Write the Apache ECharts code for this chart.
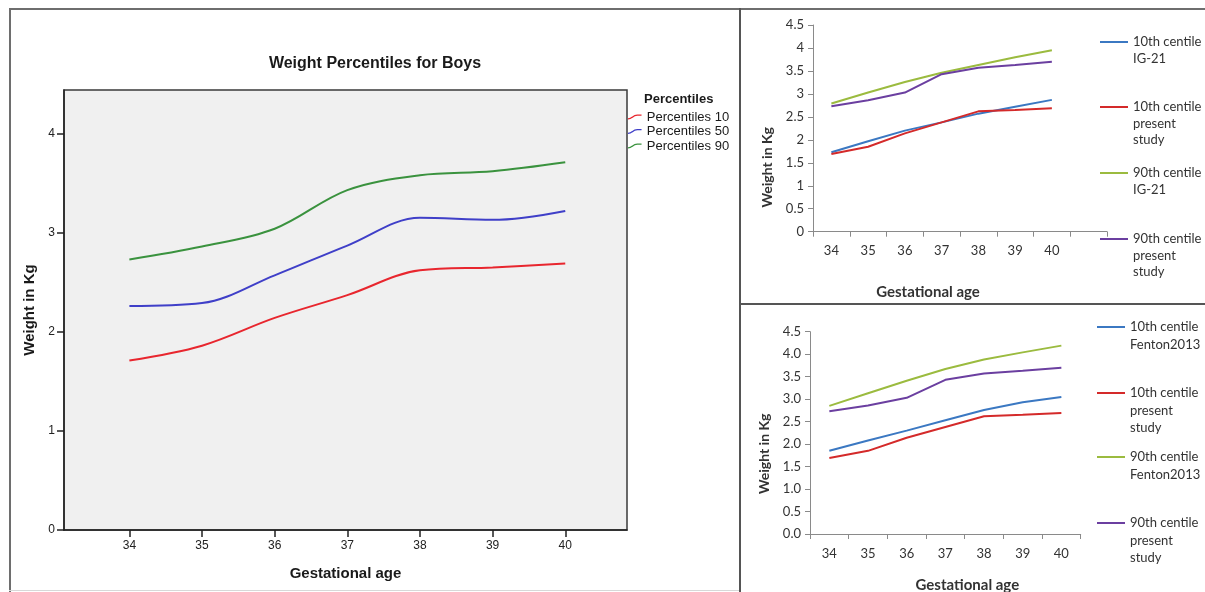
<!DOCTYPE html>
<html>
<head>
<meta charset="utf-8">
<script src="https://cdn.jsdelivr.net/npm/echarts@6/dist/echarts.min.js"></script>
<style>
  html, body { margin: 0; padding: 0; background: #fff; width: 1205px; height: 592px; overflow: hidden; }
  .c { position: absolute; }
  .ln { position: absolute; background: #6e6e6e; }
</style>
</head>
<body>
<div id="c1" class="c" style="left:11px;top:10px;width:728px;height:579px;"></div>
<div id="c2" class="c" style="left:741px;top:10px;width:464px;height:293px;"></div>
<div id="c3" class="c" style="left:741px;top:305px;width:464px;height:287px;"></div>
<div class="ln" style="left:9px;top:8px;width:1196px;height:2px;"></div>
<div class="ln" style="left:9px;top:8px;width:2px;height:584px;"></div>
<div class="ln" style="left:739px;top:8px;width:2px;height:584px;background:#555;"></div>
<div class="ln" style="left:740px;top:303px;width:465px;height:2px;background:#555;"></div>
<div class="ln" style="left:9px;top:590px;width:730px;height:1px;background:#d8d8d8;"></div>
<script>
// ---- data ----
const ages = [34, 35, 36, 37, 38, 39, 40];
const ageLabels = ['34', '35', '36', '37', '38', '39', '40'];
// left chart: smoothed percentiles (boys)
const boysP10 = [1.71, 1.86, 2.14, 2.37, 2.62, 2.65, 2.69];
const boysP50 = [2.26, 2.29, 2.57, 2.87, 3.15, 3.13, 3.22];
const boysP90 = [2.73, 2.86, 3.04, 3.43, 3.58, 3.62, 3.71];
// present study centiles (right charts)
const studyP10 = [1.69, 1.85, 2.14, 2.38, 2.62, 2.65, 2.69];
const studyP90 = [2.73, 2.86, 3.03, 3.43, 3.57, 3.63, 3.70];
// IG-21 centiles
const ig21P10 = [1.73, 1.97, 2.20, 2.38, 2.57, 2.72, 2.87];
const ig21P90 = [2.79, 3.03, 3.26, 3.46, 3.63, 3.80, 3.95];
// Fenton 2013 centiles
const fentonP10 = [1.85, 2.08, 2.30, 2.53, 2.76, 2.93, 3.05];
const fentonP90 = [2.85, 3.13, 3.41, 3.67, 3.88, 4.04, 4.19];
const leftYTicks = [0, 1, 2, 3, 4];

// ---- left chart ----
const pairs = arr => ages.map((a, i) => [a, arr[i]]);
const c1 = echarts.init(document.getElementById('c1'), null, { renderer: 'canvas' });
const sCurve = 'path://M0,4 C3,4 5,0.4 9,0.4 L13,0.4 L13,1.6 L9,1.6 C5.6,1.6 3.6,5.2 0,5.2 Z';
const leftFont = 'Liberation Sans, Arial, sans-serif';
function leftSeries(name, data, color) {
  return { type: 'line', name, data: pairs(data), smooth: 0.35, symbol: 'none',
    lineStyle: { color, width: 2 }, itemStyle: { color } };
}
c1.setOption({
  animation: false,
  textStyle: { fontFamily: leftFont },
  title: [
    { text: 'Weight Percentiles for Boys', left: 'center', top: 41,
      textStyle: { fontSize: 16, fontWeight: 'bold', color: '#1a1a1a', fontFamily: leftFont } },
    { text: 'Percentiles', left: 633, top: 83, padding: 0,
      textStyle: { fontSize: 13, fontWeight: 'bold', color: '#1a1a1a', fontFamily: leftFont } }
  ],
  legend: {
    orient: 'vertical', left: 617, top: 100, padding: 0, itemGap: 0.5,
    itemWidth: 14, itemHeight: 5, icon: sCurve,
    textStyle: { fontSize: 13, color: '#1a1a1a', lineHeight: 14, fontFamily: leftFont },
    data: ['Percentiles 10', 'Percentiles 50', 'Percentiles 90']
  },
  grid: { left: 53, top: 80, width: 563, height: 440, show: true, outerBoundsMode: 'none',
    backgroundColor: '#f0f0f0', borderColor: '#3a3a3a', borderWidth: 1.5 },
  xAxis: {
    type: 'value', min: 33.1, max: 40.85,
    name: 'Gestational age', nameLocation: 'middle', nameGap: 36,
    nameTextStyle: { fontSize: 15, fontWeight: 'bold', color: '#1a1a1a' },
    axisLine: { show: true, lineStyle: { color: '#222', width: 1.5 } },
    axisTick: { show: true, length: 7, customValues: ages, lineStyle: { color: '#222', width: 1.5 } },
    axisLabel: { customValues: ages, fontSize: 12, color: '#222', margin: 10 },
    splitLine: { show: false }
  },
  yAxis: {
    type: 'value', min: 0, max: 4.44,
    name: 'Weight in Kg', nameLocation: 'middle', nameGap: 24,
    nameTextStyle: { fontSize: 15, fontWeight: 'bold', color: '#1a1a1a' },
    axisLine: { show: true, lineStyle: { color: '#222', width: 1.5 } },
    axisTick: { show: true, length: 7, customValues: leftYTicks, lineStyle: { color: '#222', width: 1.5 } },
    axisLabel: { customValues: leftYTicks, fontSize: 12, color: '#222', margin: 9 },
    splitLine: { show: false }
  },
  series: [
    leftSeries('Percentiles 10', boysP10, '#e8262e'),
    leftSeries('Percentiles 50', boysP50, '#3f3fc8'),
    leftSeries('Percentiles 90', boysP90, '#3a923e')
  ]
});

// ---- right charts ----
const rFont = 'Lato, "Open Sans", sans-serif';
const C_BLUE = '#3b78c2', C_RED = '#d42a2a', C_GREEN = '#9bbb3f', C_PURPLE = '#6b3fa0';
function rSeries(name, data, color) {
  return { type: 'line', name, data, symbol: 'none', lineStyle: { color, width: 2 }, itemStyle: { color } };
}
// one legend per item so the icon sits beside the first text line
function legendItem(name, left, firstLineY, L) {
  const n = name.split('\n').length;
  const total = 2 * n - 1;
  return {
    left, top: firstLineY - total * L / 2, padding: 0, icon: 'rect', itemWidth: 28, itemHeight: 2,
    formatter: nm => ' \n'.repeat(n - 1) + nm,
    textStyle: { fontSize: 13, color: '#333', lineHeight: L, fontFamily: rFont },
    data: [name]
  };
}
function rightOption(cfg) {
  return {
    animation: false,
    textStyle: { fontFamily: rFont },
    legend: cfg.legend,
    grid: Object.assign({ outerBoundsMode: 'none', containLabel: false }, cfg.grid),
    xAxis: {
      type: 'category', data: cfg.cats, boundaryGap: true,
      name: 'Gestational age', nameLocation: 'middle', nameGap: cfg.xNameGap,
      nameTextStyle: { fontSize: 15, fontWeight: 'bold', color: '#333', padding: cfg.xNamePad },
      axisLine: { lineStyle: { color: '#8a8a8a', width: 1 } },
      axisTick: { show: true, length: 5, lineStyle: { color: '#8a8a8a' } },
      axisLabel: { fontSize: 13, color: '#333', margin: 13, interval: 0 },
      splitLine: { show: false }
    },
    yAxis: {
      type: 'value', min: 0, max: 4.5, interval: 0.5,
      name: 'Weight in Kg', nameLocation: 'middle', nameGap: cfg.yNameGap,
      nameTextStyle: { fontSize: 14, fontWeight: 'bold', color: '#333', padding: cfg.yNamePad },
      axisLine: { show: true, lineStyle: { color: '#8a8a8a', width: 1 } },
      axisTick: { show: true, length: 5, lineStyle: { color: '#8a8a8a' } },
      axisLabel: { fontSize: 13, color: '#333', margin: 9, formatter: cfg.yFmt },
      splitLine: { show: false }
    },
    series: cfg.series
  };
}

const topCats = ageLabels.concat(['']);
const pad = arr => arr.concat([null]);
const N10 = '10th centile\npresent\nstudy', N90 = '90th centile\npresent\nstudy';
const c2 = echarts.init(document.getElementById('c2'));
const L2 = 16.5;
c2.setOption(rightOption({
  cats: topCats,
  grid: { left: 72, top: 15, width: 294, height: 206.7 },
  xNameGap: 53, xNamePad: [0, 64, 0, 0],
  yNameGap: 38, yNamePad: [0, 78, 0, 0],
  yFmt: v => String(v),
  legend: [
    legendItem('10th centile\nIG-21', 359, 32, L2),
    legendItem(N10, 359, 97, L2),
    legendItem('90th centile\nIG-21', 359, 163, L2),
    legendItem(N90, 359, 229, L2)
  ],
  series: [
    rSeries('10th centile\nIG-21', pad(ig21P10), C_BLUE),
    rSeries(N10, pad(studyP10), C_RED),
    rSeries('90th centile\nIG-21', pad(ig21P90), C_GREEN),
    rSeries(N90, pad(studyP90), C_PURPLE)
  ]
}));

const c3 = echarts.init(document.getElementById('c3'));
const L3 = 17.5;
c3.setOption(rightOption({
  cats: ageLabels,
  grid: { left: 69, top: 26.7, width: 270.7, height: 202.3 },
  xNameGap: 44, xNamePad: [0, 0, 0, 44],
  yNameGap: 38, yNamePad: [0, 42, 0, 0],
  yFmt: v => v.toFixed(1),
  legend: [
    legendItem('10th centile\nFenton2013', 356, 22, L3),
    legendItem(N10, 356, 88, L3),
    legendItem('90th centile\nFenton2013', 356, 152, L3),
    legendItem(N90, 356, 218, L3)
  ],
  series: [
    rSeries('10th centile\nFenton2013', fentonP10, C_BLUE),
    rSeries(N10, studyP10, C_RED),
    rSeries('90th centile\nFenton2013', fentonP90, C_GREEN),
    rSeries(N90, studyP90, C_PURPLE)
  ]
}));
</script>
</body>
</html>
